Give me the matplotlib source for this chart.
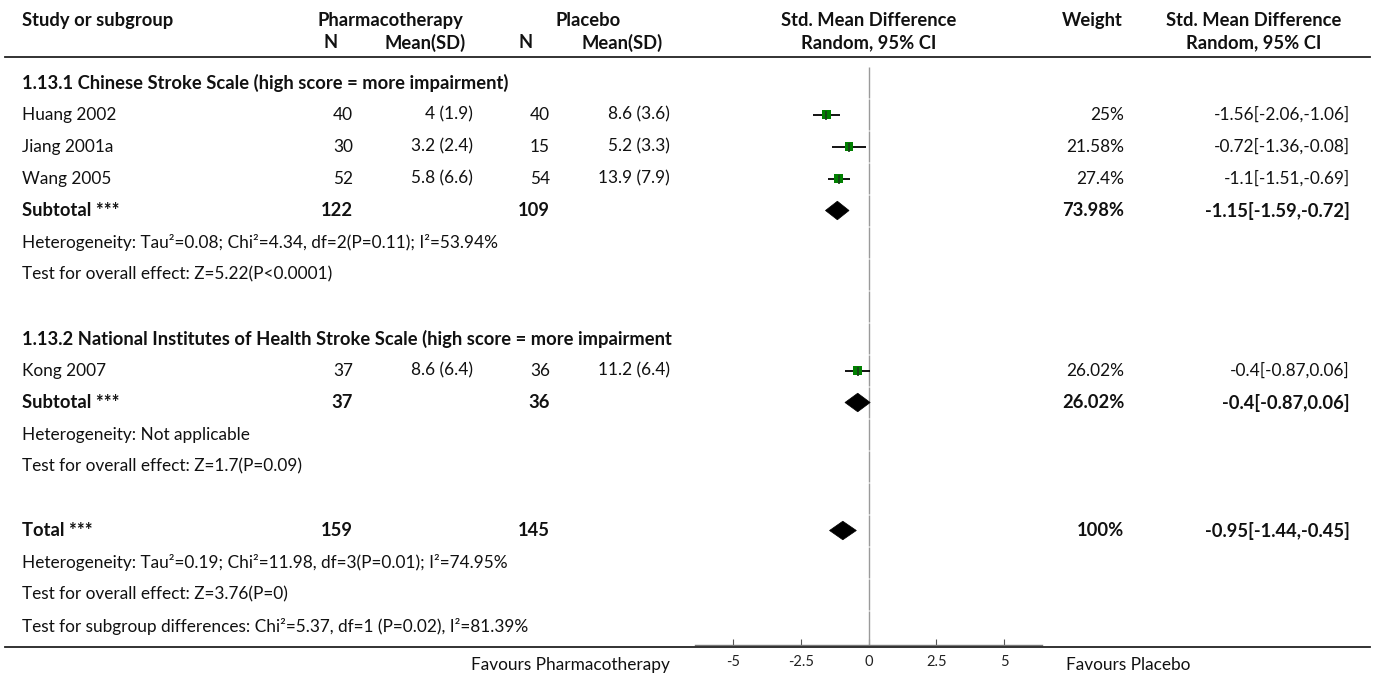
import matplotlib
matplotlib.use("Agg")
import matplotlib.pyplot as plt
from matplotlib.patches import Polygon
from matplotlib.lines import Line2D
from matplotlib import transforms
import numpy as np

plt.rcParams['font.family'] = ['Lato', 'DejaVu Sans']

# ---------------- data ----------------
studies = ["Huang 2002", "Jiang 2001a", "Wang 2005", "Kong 2007"]
study_rows = [1, 2, 3, 9]
pharm_n = [40, 30, 52, 37]
pharm_mean_sd = ["4 (1.9)", "3.2 (2.4)", "5.8 (6.6)", "8.6 (6.4)"]
placebo_n = [40, 15, 54, 36]
placebo_mean_sd = ["8.6 (3.6)", "5.2 (3.3)", "13.9 (7.9)", "11.2 (6.4)"]
smd = [-1.56, -0.72, -1.1, -0.4]
ci_lo = [-2.06, -1.36, -1.51, -0.87]
ci_hi = [-1.06, -0.08, -0.69, 0.06]
weights = [25, 21.58, 27.4, 26.02]
weight_labels = ["25%", "21.58%", "27.4%", "26.02%"]
effect_labels = ["-1.56[-2.06,-1.06]", "-0.72[-1.36,-0.08]",
                 "-1.1[-1.51,-0.69]", "-0.4[-0.87,0.06]"]

summary_labels = ["Subtotal ***", "Subtotal ***", "Total ***"]
summary_rows = [4, 10, 14]
summary_pharm_n = [122, 37, 159]
summary_placebo_n = [109, 36, 145]
summary_smd = [-1.15, -0.4, -0.95]
summary_lo = [-1.59, -0.87, -1.44]
summary_hi = [-0.72, 0.06, -0.45]
summary_weight = ["73.98%", "26.02%", "100%"]
summary_effect = ["-1.15[-1.59,-0.72]", "-0.4[-0.87,0.06]", "-0.95[-1.44,-0.45]"]

subgroup_titles = ["1.13.1 Chinese Stroke Scale (high score = more impairment)",
                   "1.13.2 National Institutes of Health Stroke Scale (high score = more impairment"]
subgroup_rows = [0, 8]

note_texts = ["Heterogeneity: Tau\u00b2=0.08; Chi\u00b2=4.34, df=2(P=0.11); I\u00b2=53.94%",
              "Test for overall effect: Z=5.22(P<0.0001)",
              "Heterogeneity: Not applicable",
              "Test for overall effect: Z=1.7(P=0.09)",
              "Heterogeneity: Tau\u00b2=0.19; Chi\u00b2=11.98, df=3(P=0.01); I\u00b2=74.95%",
              "Test for overall effect: Z=3.76(P=0)",
              "Test for subgroup differences: Chi\u00b2=5.37, df=1 (P=0.02), I\u00b2=81.39%"]
note_rows = [5, 6, 11, 12, 15, 16, 17]

xticks = [-5, -2.5, 0, 2.5, 5]
xtick_labels = ["-5", "-2.5", "0", "2.5", "5"]
favours_left = "Favours Pharmacotherapy"
favours_right = "Favours Placebo"
n_rows = 18

# ---------------- layout ----------------
W, H = 1375, 675
fig = plt.figure(figsize=(W / 100, H / 100), dpi=100)
FS = 12.4
FSB = 13.2
GREEN = "#008000"

def fx(px):
    return px / W

def fy(py):
    return 1 - py / H

row0_px, row_h = 82.5, 32.0
top_px, bot_px = 57, 645
ax_left_px, ax_right_px = 695.1, 1042.0
ax = fig.add_axes([fx(ax_left_px), fy(bot_px), (ax_right_px - ax_left_px) / W, (bot_px - top_px) / H])
ax.set_xlim(-6.4, 6.4)
ax.set_ylim((bot_px - row0_px) / row_h, (top_px - row0_px) / row_h)
ax.patch.set_visible(False)
for s in ["top", "left", "right"]:
    ax.spines[s].set_visible(False)
ax.spines["bottom"].set_color("#777777")
ax.spines["bottom"].set_linewidth(1.0)
ax.set_yticks([])
ax.set_xticks(xticks)
ax.set_xticklabels(xtick_labels)
ax.tick_params(axis="x", direction="in", length=4, width=0.8, color="#555555",
               labelsize=10.5, labelcolor="#222222", pad=7)

# vertical line of no effect, drawn row by row
lows = np.arange(n_rows) - 0.48
highs = np.arange(n_rows) + 0.48
highs[-1] = (bot_px - row0_px) / row_h
ax.vlines(np.zeros(n_rows), lows, highs, color="#9a9a9a", lw=1.0)

# study markers
ax.hlines(study_rows, ci_lo, ci_hi, color="black", lw=1.3, zorder=3)
sizes = [(1.8 * np.sqrt(w) * 0.72) ** 2 for w in weights]
ax.scatter(smd, study_rows, s=sizes, marker="s", color=GREEN, zorder=4, linewidths=0)
ax.scatter(smd, study_rows, s=(9 * 0.72) ** 2, marker="|", color="#1a3a1a", zorder=5, linewidths=1.2)

# summary diamonds
for r, m, lo, hi in zip(summary_rows, summary_smd, summary_lo, summary_hi):
    ax.add_patch(Polygon([(lo, r), (m, r - 0.29), (hi, r), (m, r + 0.29)],
                         closed=True, facecolor="black", edgecolor="black", lw=0.5, zorder=4))

trans = transforms.blended_transform_factory(fig.transFigure, ax.transData)

col_study = 22
col_pn = 353
col_pm = 473
col_cn = 550
col_cm = 670
col_w = 1124.5
col_e = 1350

def t(xpx, row, s, ha="left", bold=False):
    fig.text(fx(xpx), row, s, transform=trans, ha=ha, va="center",
             fontsize=FSB if bold else FS,
             fontweight="bold" if bold else "normal", color="#111111")

for r, s in zip(subgroup_rows, subgroup_titles):
    t(col_study, r, s, bold=True)

for i, r in enumerate(study_rows):
    t(col_study, r, studies[i])
    t(col_pn, r, str(pharm_n[i]), ha="right")
    t(col_pm, r, pharm_mean_sd[i], ha="right")
    t(col_cn, r, str(placebo_n[i]), ha="right")
    t(col_cm, r, placebo_mean_sd[i], ha="right")
    t(col_w, r, weight_labels[i], ha="right")
    t(col_e, r, effect_labels[i], ha="right")

for i, r in enumerate(summary_rows):
    t(col_study, r, summary_labels[i], bold=True)
    t(col_pn, r, str(summary_pharm_n[i]), ha="right", bold=True)
    t(col_cn, r, str(summary_placebo_n[i]), ha="right", bold=True)
    t(col_w, r, summary_weight[i], ha="right", bold=True)
    t(col_e, r, summary_effect[i], ha="right", bold=True)

for r, s in zip(note_rows, note_texts):
    t(col_study, r, s)

# headers
def h(xpx, ypx, s, ha="center"):
    fig.text(fx(xpx), fy(ypx), s, ha=ha, va="center", fontsize=FSB, fontweight="bold", color="#111111")

h(col_study, 20.7, "Study or subgroup", ha="left")
h(390, 20.7, "Pharmacotherapy")
h(588, 20.7, "Placebo")
h(331, 43, "N")
h(425, 43, "Mean(SD)")
h(526, 43, "N")
h(622, 43, "Mean(SD)")
h(868.5, 20.7, "Std. Mean Difference")
h(868.5, 43, "Random, 95% CI")
h(1123, 20.7, "Weight", ha="right")
h(1254, 20.7, "Std. Mean Difference")
h(1254, 43, "Random, 95% CI")

# rules
fig.add_artist(Line2D([fx(5), fx(1370)], [fy(57), fy(57)], color="#222222", lw=1.3))
fig.add_artist(Line2D([fx(5), fx(1370)], [fy(646.5), fy(646.5)], color="#222222", lw=1.3))

fig.text(fx(670), fy(665), favours_left, ha="right", va="center", fontsize=FS, color="#111111")
fig.text(fx(1066), fy(665), favours_right, ha="left", va="center", fontsize=FS, color="#111111")

fig.savefig("out.png", dpi=100)
